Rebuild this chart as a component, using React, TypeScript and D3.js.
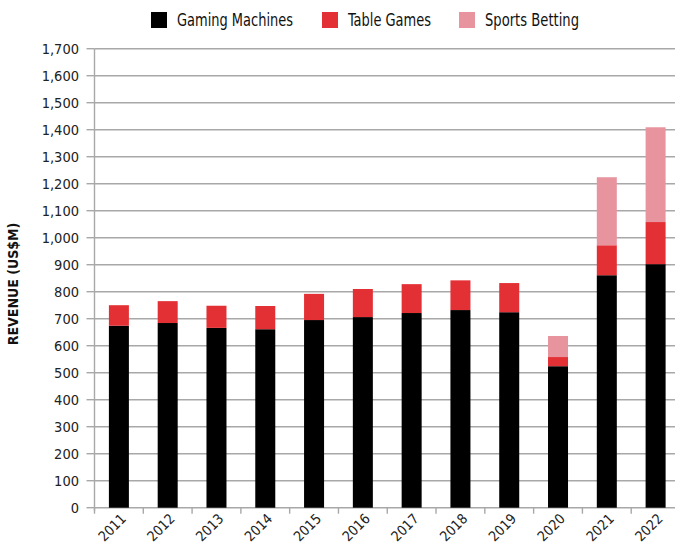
import React from "react";
import * as d3 from "d3";

const years = ["2011","2012","2013","2014","2015","2016","2017","2018","2019","2020","2021","2022"];
const gamingMachines = [674,684,666,661,695,706,721,732,724,524,861,902];
const tableGames = [76,81,82,86,97,104,107,110,108,34,111,156];
const sportsBetting = [0,0,0,0,0,0,0,0,0,78,252,351];
const yTicks = [0,100,200,300,400,500,600,700,800,900,1000,1100,1200,1300,1400,1500,1600,1700];
const seriesNames = ["Gaming Machines","Table Games","Sports Betting"];
const seriesColors = ["#000000","#e33035","#e8949f"];

const W = 675, H = 543;
const FONT = "'DejaVu Sans', sans-serif";

export default function App() {
  const left = 94.5, right = 680, top = 48.7, bottom = 507.7;
  const x = d3.scaleBand<string>().domain(years).range([left, right]).padding(0);
  const y = d3.scaleLinear().domain([0, 1700]).range([bottom, top]);
  const barW = x.bandwidth() * 0.41;

  const rows = years.map((yr, i) => ({ year: yr, g: gamingMachines[i], t: tableGames[i], s: sportsBetting[i] }));
  const stack = d3.stack<any>().keys(["g","t","s"])(rows);

  const fmt = d3.format(",");
  const legendX = [151, 322, 459];
  const legendW = [116, 83, 94];

  return (
    <svg width={W} height={H} style={{ position: "absolute", left: 0, top: 0, background: "#fff" }} fontFamily={FONT} fontStretch="condensed">
      {yTicks.map((t) => (
        <line key={"g"+t} x1={left} x2={W} y1={y(t)} y2={y(t)} stroke="#a8a8a8" strokeWidth={1.4} />
      ))}
      {stack.map((layer, li) => (
        <g key={li} fill={seriesColors[li]}>
          {layer.map((d, i) => d[1] - d[0] > 0 ? (
            <rect key={i} x={(x(years[i]) as number) + x.bandwidth()/2 - barW/2} width={barW}
              y={y(d[1])} height={y(d[0]) - y(d[1])} />
          ) : null)}
        </g>
      ))}
      <line x1={left} x2={left} y1={top} y2={bottom + 3} stroke="#a8a8a8" strokeWidth={1.4} />
      {yTicks.map((t) => (
        <g key={"t"+t}>
          <line x1={left - 8} x2={left} y1={y(t)} y2={y(t)} stroke="#a8a8a8" strokeWidth={1.4} />
          <text x={79} y={y(t)} dy="0.36em" textAnchor="end" fontSize={14.5} fill="#222">{fmt(t)}</text>
        </g>
      ))}
      {years.map((yr) => (
        <line key={"xt"+yr} x1={x(yr) as number} x2={x(yr) as number} y1={bottom} y2={bottom + 6} stroke="#a8a8a8" strokeWidth={1.4} />
      ))}
      {years.map((yr) => {
        const cx = (x(yr) as number) + x.bandwidth()/2 + 8;
        const cy = bottom + 12;
        return (
          <text key={"xl"+yr} x={cx} y={cy} textAnchor="end" fontSize={14} fill="#222"
            transform={`rotate(-45 ${cx} ${cy})`}>{yr}</text>
        );
      })}
      <text x={0} y={0} transform={`translate(18 284) rotate(-90)`} textAnchor="middle" fontSize={14}
        fontWeight="bold" fontFamily="'DejaVu Sans', sans-serif" fill="#111">REVENUE (US$M)</text>
      {seriesNames.map((n, i) => (
        <g key={"lg"+i}>
          <rect x={legendX[i]} y={12} width={16} height={16} fill={seriesColors[i]} />
          <text x={legendX[i] + 26} y={20} dy="0.36em" fontSize={18} fill="#111"
            textLength={legendW[i]} lengthAdjust="spacingAndGlyphs">{n}</text>
        </g>
      ))}
    </svg>
  );
}
